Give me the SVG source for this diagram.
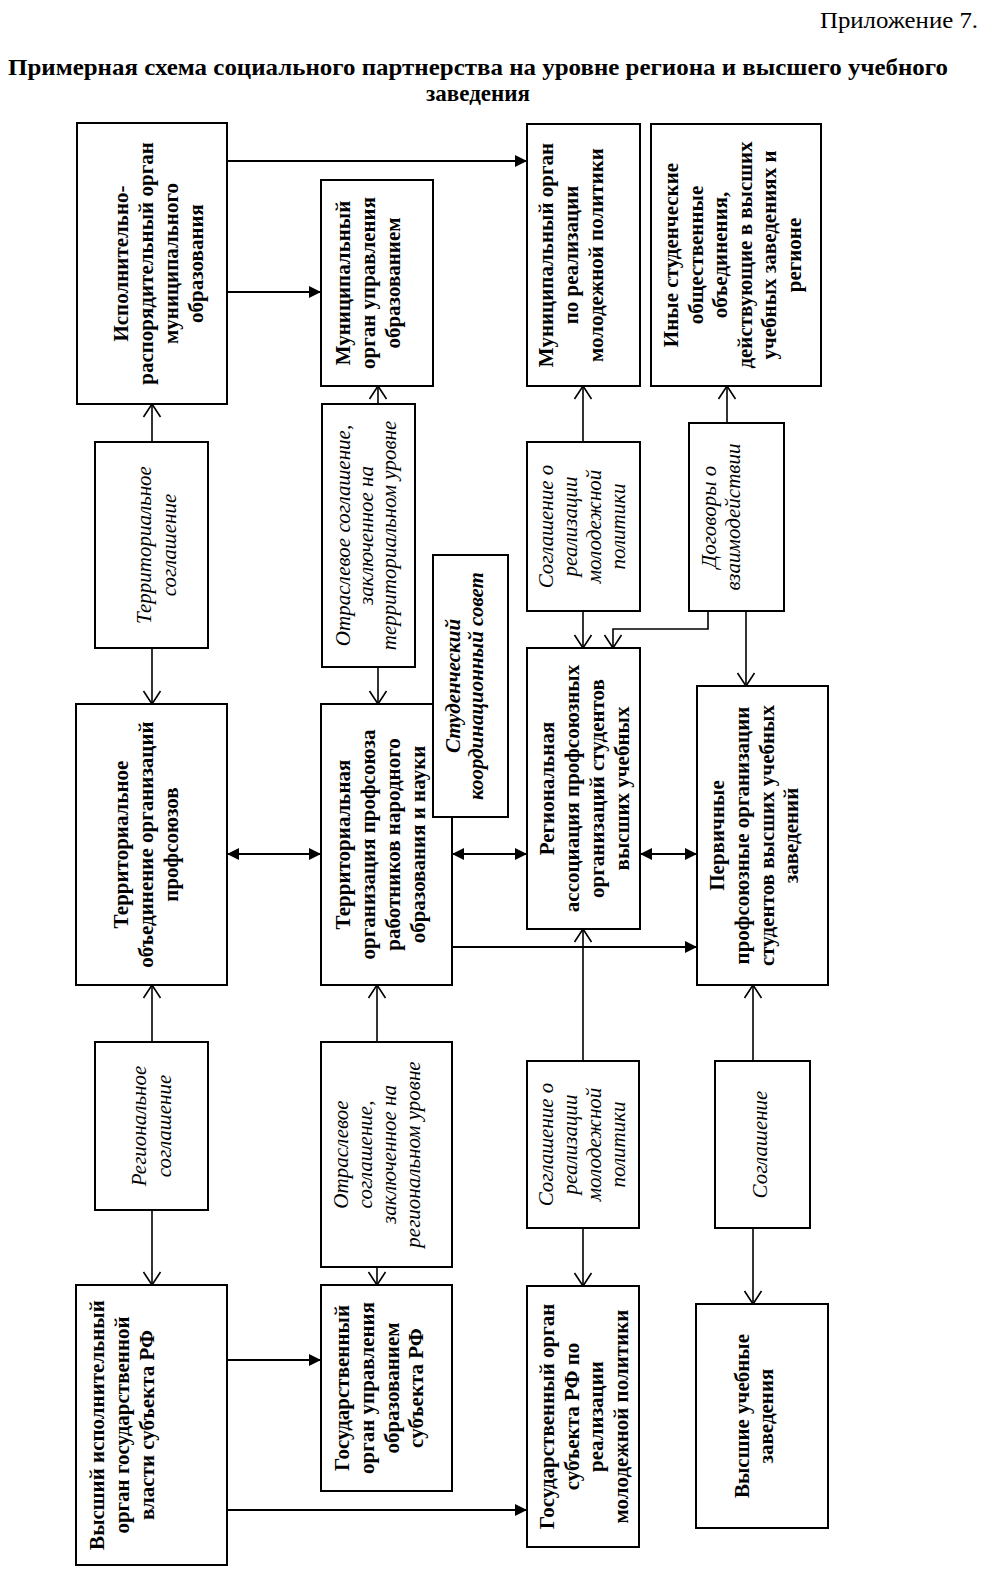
<svg xmlns="http://www.w3.org/2000/svg" width="986" height="1571" viewBox="0 0 986 1571">
<style>
.box{fill:#fff;stroke:#000;stroke-width:2}
.b{font-family:"Liberation Serif","Times New Roman",serif;font-weight:bold;font-size:21px;text-anchor:middle;fill:#000}
.i{font-family:"Liberation Serif","Times New Roman",serif;font-style:italic;font-size:21px;text-anchor:middle;fill:#000}
.bi{font-family:"Liberation Serif","Times New Roman",serif;font-style:italic;font-weight:bold;font-size:21px;text-anchor:middle;fill:#000}
.t{font-family:"Liberation Serif","Times New Roman",serif;fill:#000}
.c{stroke:#000;stroke-width:2;fill:none}
.o{stroke-width:1.6;marker-end:url(#oa)}
.f{marker-end:url(#fa)}
.d{marker-start:url(#fa);marker-end:url(#fa)}
</style>
<defs>
<marker id="fa" markerUnits="userSpaceOnUse" markerWidth="14" markerHeight="14" refX="12" refY="6" orient="auto-start-reverse" overflow="visible">
<path d="M0,0 L12,6 L0,12 Z" fill="#000"/>
</marker>
<marker id="oa" markerUnits="userSpaceOnUse" markerWidth="16" markerHeight="20" refX="13" refY="8.5" orient="auto" overflow="visible">
<path d="M0,0 L13,8.5 L0,17" fill="none" stroke="#000" stroke-width="1.6"/>
</marker>
</defs>
<rect width="986" height="1571" fill="#fff"/>
<g id="title">
<text class="t" x="978" y="28" font-size="23" text-anchor="end" textLength="158" lengthAdjust="spacingAndGlyphs">Приложение 7.</text>
<text class="t" x="8" y="75" font-size="23" font-weight="bold" textLength="940" lengthAdjust="spacingAndGlyphs">Примерная схема социального партнерства на уровне региона и высшего учебного</text>
<text class="t" x="478" y="101" font-size="23" font-weight="bold" text-anchor="middle">заведения</text>
</g>
<g id="connectors">
<line class="c f" x1="227" y1="161" x2="527" y2="161"/>
<line class="c f" x1="227" y1="292" x2="321" y2="292"/>
<line class="c o" x1="152" y1="442" x2="152" y2="404"/>
<line class="c o" x1="152" y1="648" x2="152" y2="704"/>
<line class="c o" x1="378" y1="404" x2="378" y2="386"/>
<line class="c o" x1="378" y1="667" x2="378" y2="704"/>
<line class="c o" x1="583" y1="442" x2="583" y2="386"/>
<line class="c o" x1="583" y1="611" x2="583" y2="648"/>
<line class="c o" x1="727" y1="423" x2="727" y2="386"/>
<path class="c o" d="M708,611 V629 H613 V648"/>
<line class="c o" x1="746" y1="611" x2="746" y2="686"/>
<line class="c d" x1="227" y1="854" x2="321" y2="854"/>
<line class="c d" x1="452" y1="854" x2="527" y2="854"/>
<line class="c d" x1="640" y1="854" x2="697" y2="854"/>
<line class="c f" x1="452" y1="947" x2="697" y2="947"/>
<line class="c o" x1="583" y1="1061" x2="583" y2="929"/>
<line class="c o" x1="753" y1="1061" x2="753" y2="985"/>
<line class="c o" x1="152" y1="1042" x2="152" y2="985"/>
<line class="c o" x1="152" y1="1210" x2="152" y2="1285"/>
<line class="c o" x1="377" y1="1042" x2="377" y2="985"/>
<line class="c o" x1="377" y1="1267" x2="377" y2="1285"/>
<line class="c o" x1="583" y1="1228" x2="583" y2="1286"/>
<line class="c o" x1="753" y1="1228" x2="753" y2="1304"/>
<line class="c f" x1="227" y1="1360" x2="321" y2="1360"/>
<line class="c f" x1="227" y1="1510" x2="527" y2="1510"/>
</g>
<g id="n-exec-mun">
<rect class="box" x="77" y="123" width="150" height="281"/>
<text class="b" transform="translate(0,263.5) rotate(-90)"><tspan x="0" y="128">Исполнительно-</tspan><tspan x="0" y="153">распорядительный орган</tspan><tspan x="0" y="178">муниципального</tspan><tspan x="0" y="203">образования</tspan></text>
</g>
<g id="n-mun-edu">
<rect class="box" x="321" y="180" width="112" height="206"/>
<text class="b" transform="translate(0,283) rotate(-90)"><tspan x="0" y="350">Муниципальный</tspan><tspan x="0" y="375">орган управления</tspan><tspan x="0" y="400">образованием</tspan></text>
</g>
<g id="n-mun-youth">
<rect class="box" x="527" y="124" width="113" height="262"/>
<text class="b" transform="translate(0,255) rotate(-90)"><tspan x="0" y="553">Муниципальный орган</tspan><tspan x="0" y="578">по реализации</tspan><tspan x="0" y="603">молодежной политики</tspan></text>
</g>
<g id="n-other-student">
<rect class="box" x="651" y="124" width="170" height="262"/>
<text class="b" transform="translate(0,255) rotate(-90)"><tspan x="0" y="678">Иные студенческие</tspan><tspan x="0" y="702.5">общественные</tspan><tspan x="0" y="727">объединения,</tspan><tspan x="0" y="751.5">действующие в высших</tspan><tspan x="0" y="776">учебных заведениях и</tspan><tspan x="0" y="800.5">регионе</tspan></text>
</g>
<g id="n-terr-agr">
<rect class="box" x="95" y="442" width="113" height="206"/>
<text class="i" transform="translate(0,545) rotate(-90)"><tspan x="0" y="151">Территориальное</tspan><tspan x="0" y="176">соглашение</tspan></text>
</g>
<g id="n-branch-terr">
<rect class="box" x="322" y="404" width="93" height="263"/>
<text class="i" transform="translate(0,535.5) rotate(-90)"><tspan x="0" y="350">Отраслевое соглашение,</tspan><tspan x="0" y="373">заключенное на</tspan><tspan x="0" y="396">территориальном уровне</tspan></text>
</g>
<g id="n-youth-agr-top">
<rect class="box" x="527" y="442" width="113" height="169"/>
<text class="i" transform="translate(0,526.5) rotate(-90)"><tspan x="0" y="553">Соглашение о</tspan><tspan x="0" y="577">реализации</tspan><tspan x="0" y="601">молодежной</tspan><tspan x="0" y="625">политики</tspan></text>
</g>
<g id="n-contracts">
<rect class="box" x="689" y="423" width="95" height="188"/>
<text class="i" transform="translate(0,517) rotate(-90)"><tspan x="0" y="716">Договоры о</tspan><tspan x="0" y="740">взаимодействии</tspan></text>
</g>
<g id="n-terr-union">
<rect class="box" x="76" y="704" width="151" height="281"/>
<text class="b" transform="translate(0,844.5) rotate(-90)"><tspan x="0" y="128">Территориальное</tspan><tspan x="0" y="153">объединение организаций</tspan><tspan x="0" y="178">профсоюзов</tspan></text>
</g>
<g id="n-terr-org">
<rect class="box" x="321" y="704" width="131" height="281"/>
<text class="b" transform="translate(0,844.5) rotate(-90)"><tspan x="0" y="350">Территориальная</tspan><tspan x="0" y="375">организация профсоюза</tspan><tspan x="0" y="400">работников народного</tspan><tspan x="0" y="425">образования и науки</tspan></text>
</g>
<g id="n-student-council">
<rect class="box" x="433" y="555" width="75" height="262"/>
<text class="bi" transform="translate(0,686) rotate(-90)"><tspan x="0" y="460">Студенческий</tspan><tspan x="0" y="483">координационный совет</tspan></text>
</g>
<g id="n-reg-assoc">
<rect class="box" x="527" y="648" width="113" height="281"/>
<text class="b" transform="translate(0,788.5) rotate(-90)"><tspan x="0" y="554">Региональная</tspan><tspan x="0" y="579">ассоциация профсоюзных</tspan><tspan x="0" y="604">организаций студентов</tspan><tspan x="0" y="629">высших учебных</tspan></text>
</g>
<g id="n-primary">
<rect class="box" x="697" y="686" width="131" height="299"/>
<text class="b" transform="translate(0,835.5) rotate(-90)"><tspan x="0" y="724">Первичные</tspan><tspan x="0" y="749">профсоюзные организации</tspan><tspan x="0" y="774">студентов высших учебных</tspan><tspan x="0" y="798">заведений</tspan></text>
</g>
<g id="n-reg-agr">
<rect class="box" x="95" y="1042" width="113" height="168"/>
<text class="i" transform="translate(0,1126) rotate(-90)"><tspan x="0" y="146">Региональное</tspan><tspan x="0" y="171">соглашение</tspan></text>
</g>
<g id="n-branch-reg">
<rect class="box" x="321" y="1042" width="131" height="225"/>
<text class="i" transform="translate(0,1154.5) rotate(-90)"><tspan x="0" y="348">Отраслевое</tspan><tspan x="0" y="372">соглашение,</tspan><tspan x="0" y="396">заключенное на</tspan><tspan x="0" y="420">региональном уровне</tspan></text>
</g>
<g id="n-youth-agr-bottom">
<rect class="box" x="527" y="1061" width="112" height="167"/>
<text class="i" transform="translate(0,1144.5) rotate(-90)"><tspan x="0" y="553">Соглашение о</tspan><tspan x="0" y="577">реализации</tspan><tspan x="0" y="601">молодежной</tspan><tspan x="0" y="625">политики</tspan></text>
</g>
<g id="n-agreement">
<rect class="box" x="715" y="1061" width="95" height="167"/>
<text class="i" transform="translate(0,1144.5) rotate(-90)"><tspan x="0" y="767">Соглашение</tspan></text>
</g>
<g id="n-exec-state">
<rect class="box" x="76" y="1285" width="151" height="280"/>
<text class="b" transform="translate(0,1425) rotate(-90)"><tspan x="0" y="104">Высший исполнительный</tspan><tspan x="0" y="129">орган государственной</tspan><tspan x="0" y="154">власти субъекта РФ</tspan></text>
</g>
<g id="n-state-edu">
<rect class="box" x="321" y="1285" width="131" height="206"/>
<text class="b" transform="translate(0,1388) rotate(-90)"><tspan x="0" y="349">Государственный</tspan><tspan x="0" y="374">орган управления</tspan><tspan x="0" y="399">образованием</tspan><tspan x="0" y="423">субъекта РФ</tspan></text>
</g>
<g id="n-state-youth">
<rect class="box" x="527" y="1286" width="112" height="261"/>
<text class="b" transform="translate(0,1416.5) rotate(-90)"><tspan x="0" y="554">Государственный орган</tspan><tspan x="0" y="579">субъекта РФ по</tspan><tspan x="0" y="603">реализации</tspan><tspan x="0" y="628">молодежной политики</tspan></text>
</g>
<g id="n-universities">
<rect class="box" x="696" y="1304" width="132" height="224"/>
<text class="b" transform="translate(0,1416) rotate(-90)"><tspan x="0" y="749">Высшие учебные</tspan><tspan x="0" y="773">заведения</tspan></text>
</g>
</svg>
